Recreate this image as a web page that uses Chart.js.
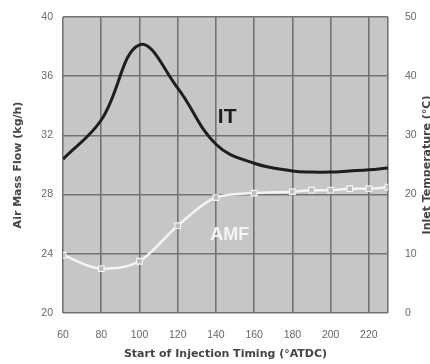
<!DOCTYPE html>
<html>
<head>
<meta charset="utf-8">
<script src="https://cdn.jsdelivr.net/npm/chart.js@4/dist/chart.umd.min.js"></script>
<style>
	html, body { margin: 0; padding: 0; background: #fff; }
	#wrap { width: 430px; height: 364px; }
</style>
</head>
<body>
<div id="wrap"><canvas id="chart" width="430" height="364"></canvas></div>
<script>
// injection timing (deg ATDC)
const timing = [60, 80, 100, 120, 140, 160, 180, 190, 200, 210, 220, 230];
// air mass flow, kg/h (left axis)
const amf = [23.9, 23.0, 23.5, 25.9, 27.8, 28.1, 28.2, 28.3, 28.3, 28.4, 28.4, 28.5];
// inlet temperature, deg C (right axis)
const inletTemp = [26.0, 32.6, 45.3, 38.0, 28.5, 25.3, 24.0, 23.8, 23.8, 24.0, 24.2, 24.5];

const xTicks = [60, 80, 100, 120, 140, 160, 180, 200, 220, 230];
const leftTicks = [20, 24, 28, 32, 36, 40];
const rightTicks = [0, 10, 20, 30, 40, 50];

const toXY = (ys) => timing.map((t, i) => ({ x: t, y: ys[i] }));

const tickFont = { size: 10.5, family: "'Liberation Sans', Arial" };
const titleFont = { size: 11, weight: "bold", family: "'DejaVu Sans', sans-serif" };

const plotBg = {
	id: "plotBg",
	beforeDraw(chart) {
		const a = chart.chartArea;
		const ctx = chart.ctx;
		ctx.save();
		ctx.fillStyle = "#c6c6c6";
		ctx.fillRect(a.left, a.top, a.right - a.left, a.bottom - a.top);
		ctx.restore();
	},
	afterDatasetsDraw(chart) {
		const ctx = chart.ctx;
		const a = chart.chartArea;
		const x = chart.scales.x;
		const y = chart.scales.y;
		ctx.save();
		ctx.font = "bold 21px 'Liberation Sans', Arial, sans-serif";
		ctx.textAlign = "left";
		ctx.textBaseline = "middle";
		ctx.fillStyle = "#1e1e1e";
		ctx.fillText("IT", x.getPixelForValue(141), y.getPixelForValue(33.2));
		ctx.font = "bold 18px 'Liberation Sans', Arial, sans-serif";
		ctx.fillStyle = "#f4f4f4";
		ctx.fillText("AMF", x.getPixelForValue(137), y.getPixelForValue(25.3));
		// right axis title reads bottom-to-top in the original
		ctx.translate(427, (a.top + a.bottom) / 2);
		ctx.rotate(-Math.PI / 2);
		ctx.textAlign = "center";
		ctx.font = "bold 11px 'DejaVu Sans', sans-serif";
		ctx.fillStyle = "#444";
		ctx.fillText("Inlet Temperature (°C)", 0, 0);
		ctx.restore();
	},
};

new Chart(document.getElementById("chart"), {
	type: "line",
	data: {
		datasets: [
			{
				label: "IT",
				data: toXY(inletTemp),
				yAxisID: "y2",
				borderColor: "#1e1e1e",
				borderWidth: 3,
				pointRadius: 0,
				tension: 0.4,
			},
			{
				label: "AMF",
				data: toXY(amf),
				yAxisID: "y",
				borderColor: "#f4f4f4",
				borderWidth: 2.5,
				pointStyle: "rect",
				pointRadius: 4,
				pointBorderWidth: 1.2,
				pointBorderColor: "#f4f4f4",
				pointBackgroundColor: "#bdbdbd",
				cubicInterpolationMode: "monotone",
			},
		],
	},
	options: {
		responsive: false,
		animation: false,
		layout: { padding: { top: 17, left: 0, right: 0, bottom: 0 } },
		plugins: { legend: { display: false }, tooltip: { enabled: false } },
		scales: {
			x: {
				type: "linear",
				min: 60,
				max: 230,
				afterBuildTicks: (s) => { s.ticks = xTicks.map((v) => ({ value: v })); },
				ticks: {
					color: "#666",
					font: tickFont,
					padding: 16,
					autoSkip: false,
					maxRotation: 0,
					callback: (v) => (v === 230 ? "" : v),
				},
				grid: { color: "#737373", lineWidth: 1.6, drawTicks: false },
				border: { display: false },
				title: {
					display: true,
					text: "Start of Injection Timing (°ATDC)",
					color: "#444",
					font: titleFont,
					padding: { top: 2, bottom: 3 },
				},
				afterFit: (s) => { s.height = 51; },
			},
			y: {
				position: "left",
				min: 20,
				max: 40,
				afterBuildTicks: (s) => { s.ticks = leftTicks.map((v) => ({ value: v })); },
				ticks: { color: "#666", font: tickFont, padding: 10 },
				grid: { color: "#737373", lineWidth: 1.6, drawTicks: false },
				border: { display: false },
				title: {
					display: true,
					text: "Air Mass Flow (kg/h)",
					color: "#444",
					font: titleFont,
					padding: { top: 12, bottom: 0 },
				},
				afterFit: (s) => { s.width = 63; },
			},
			y2: {
				position: "right",
				min: 0,
				max: 50,
				afterBuildTicks: (s) => { s.ticks = rightTicks.map((v) => ({ value: v })); },
				ticks: { color: "#666", font: tickFont, padding: 9 },
				grid: { display: false },
				border: { display: false },
				afterFit: (s) => { s.width = 42; },
			},
		},
	},
	plugins: [plotBg],
});
</script>
</body>
</html>
